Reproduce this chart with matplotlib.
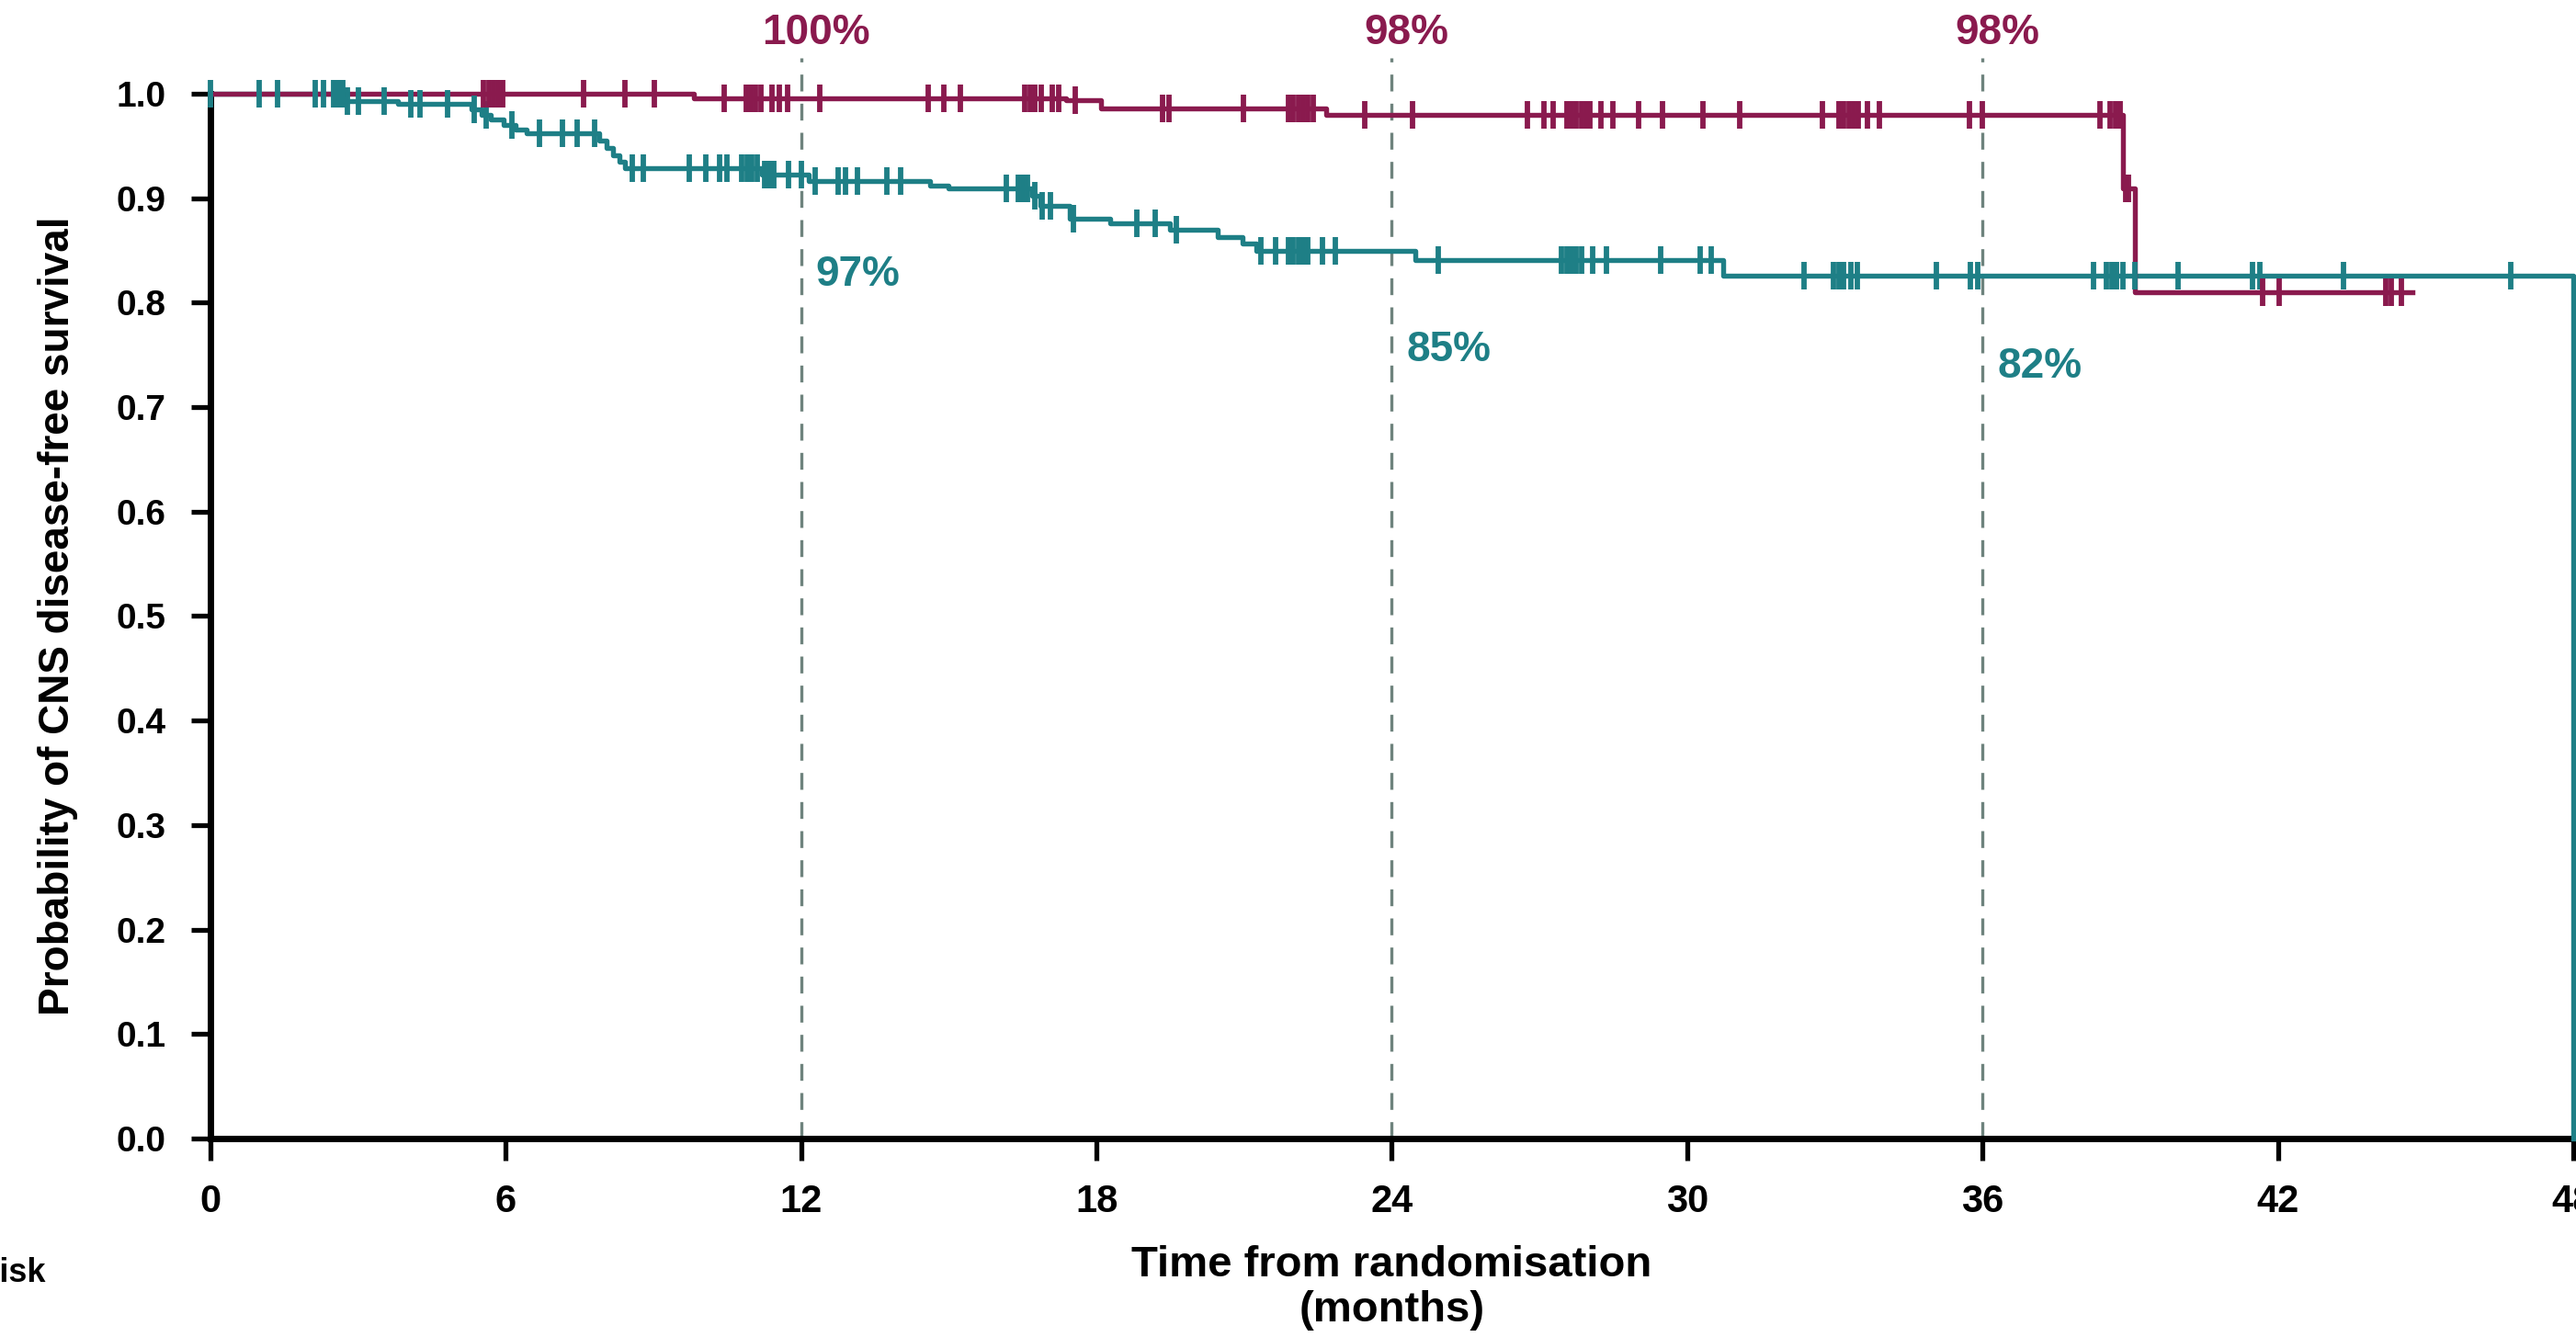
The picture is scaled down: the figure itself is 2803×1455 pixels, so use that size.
import matplotlib
matplotlib.use("Agg")
import matplotlib.pyplot as plt
import numpy as np

# Kaplan-Meier steps (months, survival probability)
magenta_times = [0, 9.82, 17.38, 18.1, 22.67, 38.85, 39.1]
magenta_surv = [1.0, 0.9958, 0.9937, 0.9857, 0.9798, 0.909, 0.810]
magenta_end = 44.73
magenta_censor = [5.55, 5.65, 5.75, 5.85, 5.93, 7.58, 8.42, 9.02, 10.44, 10.88, 10.98,
                  11.08, 11.18, 11.4, 11.56, 11.72, 12.38, 14.58, 14.9, 15.24, 16.55,
                  16.65, 16.75, 16.88, 17.1, 17.23, 17.57, 19.35, 19.47, 20.98, 21.9,
                  22.0, 22.1, 22.2, 22.3, 22.4, 23.45, 24.42, 26.75, 27.1, 27.28, 27.55,
                  27.65, 27.75, 27.85, 27.95, 28.03, 28.25, 28.49, 29.01, 29.5, 30.32,
                  31.07, 32.75, 33.08, 33.18, 33.28, 33.38, 33.48, 33.66, 33.9, 35.74,
                  36.0, 38.39, 38.6, 38.7, 38.8, 38.9, 38.97, 41.7, 42.03, 44.2, 44.3,
                  44.51]

teal_times = [0, 2.69, 3.81, 5.3, 5.5, 5.7, 5.95, 6.2, 6.42, 7.9, 8.05, 8.18, 8.3, 8.42,
              11.2, 12.15, 14.62, 14.99, 16.7, 16.85, 17.45, 18.28, 19.5, 20.46, 20.97,
              21.25, 24.48, 30.73, 48.0]
teal_surv = [1.0, 0.993, 0.990, 0.985, 0.980, 0.975, 0.970, 0.966, 0.962, 0.955, 0.948,
             0.941, 0.935, 0.9285, 0.9226, 0.9168, 0.9124, 0.9094, 0.902, 0.893, 0.880,
             0.876, 0.870, 0.863, 0.857, 0.8496, 0.8408, 0.8258, 0.0]
teal_censor = [0.0, 0.99, 1.36, 2.13, 2.30, 2.5, 2.56, 2.62, 2.68, 2.78, 3.0, 3.53, 4.07,
               4.26, 4.82, 5.35, 5.6, 6.12, 6.68, 7.15, 7.45, 7.8, 8.57, 8.8, 9.73,
               10.06, 10.35, 10.5, 10.8, 10.9, 11.0, 11.1, 11.25, 11.35, 11.45, 11.75,
               12.0, 12.28, 12.75, 12.9, 13.15, 13.74, 14.02, 16.17, 16.41, 16.5, 16.6,
               16.75, 16.9, 17.07, 17.53, 18.82, 19.19, 19.62, 21.34, 21.64, 21.9, 22.0,
               22.1, 22.2, 22.3, 22.6, 22.85, 24.94, 27.45, 27.55, 27.65, 27.75, 27.85,
               28.08, 28.36, 29.46, 30.27, 30.49, 32.37, 32.98, 33.08, 33.18, 33.32,
               33.45, 35.06, 35.75, 35.9, 38.26, 38.52, 38.62, 38.72, 38.85, 39.1,
               39.97, 41.49, 41.64, 43.33, 46.73]

landmarks = [12, 24, 36]
magenta_labels = ["100%", "98%", "98%"]
teal_labels = ["97%", "85%", "82%"]
teal_label_y = [0.827, 0.755, 0.739]

x_ticks = [0, 6, 12, 18, 24, 30, 36, 42, 48]
y_ticks = [0.0, 0.1, 0.2, 0.3, 0.4, 0.5, 0.6, 0.7, 0.8, 0.9, 1.0]

MAGENTA = "#8A1A4E"
TEAL = "#1E7F86"
DASH = "#6E837D"

plt.rcParams['font.family'] = ['Liberation Sans', 'DejaVu Sans']
plt.rcParams['font.weight'] = 'bold'

fig = plt.figure(figsize=(28.03, 14.55), dpi=100)
ax = fig.add_axes([0.0817, 0.1485, 0.9172, 0.7814])


def km_curve(times, surv, censor, color, end=None):
    xs = list(times)
    ys = list(surv)
    if end is not None:
        xs.append(end)
        ys.append(surv[-1])
    ax.step(xs, ys, where='post', color=color, lw=3.9, clip_on=False, zorder=3)
    # censor marks sit on the curve
    idx = np.searchsorted(np.array(times), np.array(censor), side='right') - 1
    cy = np.array(surv)[idx]
    ax.plot(censor, cy, linestyle='none', marker='|', markersize=22,
            markeredgewidth=4.2, color=color, clip_on=False, zorder=4)


km_curve(teal_times, teal_surv, teal_censor, TEAL)
km_curve(magenta_times, magenta_surv, magenta_censor, MAGENTA, end=magenta_end)

# landmark lines and labels
for i, t in enumerate(landmarks):
    ax.plot([t, t], [0, 1.034], color=DASH, lw=2.4, linestyle=(0, (5.5, 4)),
            clip_on=False, zorder=2)
    ax.text(t + 0.3, 1.058, magenta_labels[i], color=MAGENTA, fontsize=33,
            fontweight='bold', ha='center', va='center')
    ax.text(t + 0.3, teal_label_y[i], teal_labels[i], color=TEAL, fontsize=33,
            fontweight='bold', ha='left', va='center')

ax.set_xlim(0, 48)
ax.set_ylim(0, 1.0)
ax.set_xticks(x_ticks)
ax.set_yticks(y_ticks)
ax.set_yticklabels([f"{v:.1f}" for v in y_ticks])

for side in ['top', 'right']:
    ax.spines[side].set_visible(False)
for side in ['left', 'bottom']:
    ax.spines[side].set_linewidth(5)
    ax.spines[side].set_color('black')

ax.tick_params(axis='y', length=15, width=3.8, pad=20, labelsize=28)
ax.tick_params(axis='x', length=17, width=3.8, pad=18, labelsize=30)
for lab in ax.get_xticklabels() + ax.get_yticklabels():
    lab.set_fontweight('bold')

ax.set_ylabel("Probability of CNS disease-free survival", fontsize=33,
              fontweight='bold', labelpad=30)
ax.set_xlabel("Time from randomisation\n(months)", fontsize=34,
              fontweight='bold', labelpad=20, linespacing=1.15)

# row header of the at-risk table, cut by the left edge as in the source image
fig.text(0.0175, 0.048, "No. at risk", fontsize=26, fontweight='bold',
         ha='right', va='center')

fig.savefig("out.png", dpi=100, facecolor='white')
